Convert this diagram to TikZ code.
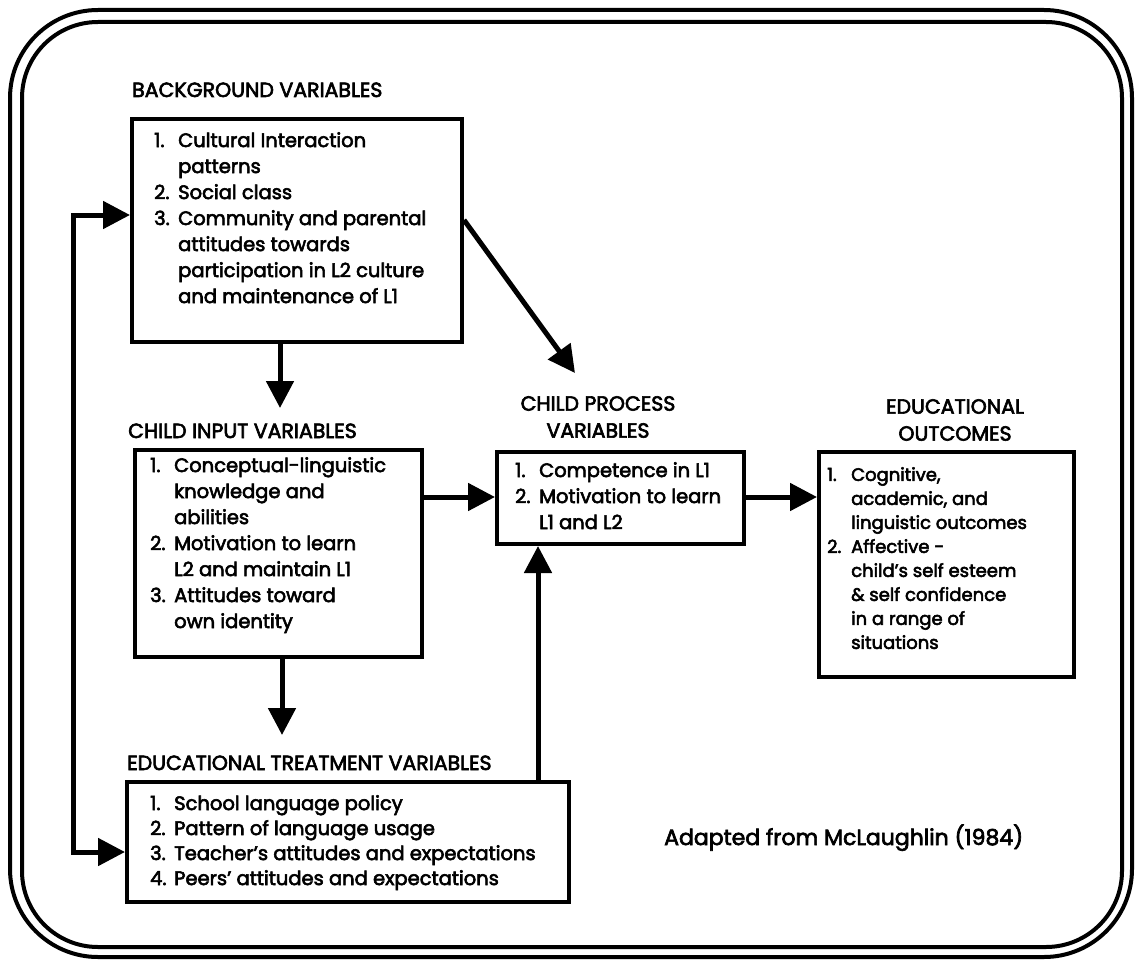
\documentclass[tikz,border=0pt]{standalone}
\usepackage{fontspec}
\setmainfont{Poppins}[FakeBold=3]
\usetikzlibrary{arrows.meta}

\tikzset{
  frameline/.style={line width=4pt, rounded corners=#1},
  varbox/.style={draw, line width=4pt, inner sep=0pt, anchor=north west},
  boxtext/.style={inner sep=0pt, anchor=north west, align=left, font=\fontsize{19.5}{26}\selectfont},
  heading/.style={inner sep=0pt, font=\fontsize{20.5}{27}\selectfont},
  bigtip/.tip={Triangle[length=27pt,width=27pt]},
  flow/.style={line width=5pt, -bigtip},
}
% list numbers in a fixed-width slot, continuation lines indented to match
\newlength{\numw}
\setlength{\numw}{24pt}
\newcommand{\itm}[1]{\makebox[\numw][l]{#1.}}
\newcommand{\ind}{\hspace*{\numw}}

\begin{document}
\begin{tikzpicture}[x=1pt,y=-1pt]
\useasboundingbox (0,0) rectangle (1137,960);

% double rounded frame
\draw[frameline=88pt] (10,10) rectangle (1132,957);
\draw[frameline=76pt] (22,22) rectangle (1122,947);

% boxes
\node[varbox, minimum width=330pt, minimum height=223pt] (bg) at (130,117) {};
\node[varbox, minimum width=287pt, minimum height=207pt] (inp) at (133,448) {};
\node[varbox, minimum width=247pt, minimum height=92pt] (proc) at (495,450) {};
\node[varbox, minimum width=255pt, minimum height=225pt] (outc) at (817,450) {};
\node[varbox, minimum width=442pt, minimum height=120pt] (treat) at (125,780) {};

% headings
\node[heading, anchor=base west] (bgtitle) at (132,97) {BACKGROUND VARIABLES};
\node[heading, anchor=base west] (inptitle) at (128,438) {CHILD INPUT VARIABLES};
\node[heading, align=center] (proctitle) at (598,417) {CHILD PROCESS\\VARIABLES};
\node[heading, align=center] (outctitle) at (955,420) {EDUCATIONAL\\OUTCOMES};
\node[heading, anchor=base west] (treattitle) at (127,770) {EDUCATIONAL TREATMENT VARIABLES};

% box contents
\node[boxtext] (bgtext) at (154,132) {\itm{1}Cultural Interaction\\\ind patterns\\\itm{2}Social class\\\itm{3}Community and parental\\\ind attitudes towards\\\ind participation in L2 culture\\\ind and maintenance of L1};
\node[boxtext] (inptext) at (150,457) {\itm{1}Conceptual-linguistic\\\ind knowledge and\\\ind abilities\\\itm{2}Motivation to learn\\\ind L2 and maintain L1\\\itm{3}Attitudes toward\\\ind own identity};
\node[boxtext] (proctext) at (515,462) {\itm{1}Competence in L1\\\itm{2}Motivation to learn\\\ind L1 and L2};
\node[boxtext, font=\fontsize{18}{24}\selectfont] (outctext) at (827,467) {\itm{1}Cognitive,\\\ind academic, and\\\ind linguistic outcomes\\\itm{2}Affective -\\\ind child's self esteem\\\ind \& self confidence\\\ind in a range of\\\ind situations};
\node[boxtext, font=\fontsize{19.5}{25}\selectfont] (treattext) at (150,795) {\itm{1}School language policy\\\itm{2}Pattern of language usage\\\itm{3}Teacher's attitudes and expectations\\\itm{4}Peers' attitudes and expectations};

\node[inner sep=0pt, anchor=base west, font=\fontsize{22}{27}\selectfont] (credit) at (664,845) {Adapted from McLaughlin (1984)};

% connectors
\coordinate (t1) at (280,408);
\draw[flow] (bg.south -| t1) -- (t1);
\coordinate (t2) at (282,735);
\draw[flow] (inp.south -| t2) -- (t2);
\coordinate (mid) at (0,497);
\draw[flow] (inp.east |- mid) -- (proc.west |- mid);
\draw[flow] (proc.east |- mid) -- (outc.west |- mid);
\coordinate (d0) at (0,220);
\coordinate (t3) at (575,373);
\draw[flow] (bg.east |- d0) -- (t3);
\coordinate (up) at (538,0);
\draw[flow] (treat.north -| up) -- (proc.south -| up);
\coordinate (lp) at (73,215);
\coordinate (lq) at (73,852);
\draw[line width=5pt, bigtip-bigtip] (bg.west |- lp) -- (lp) -- (lq) -- (treat.west |- lq);
\end{tikzpicture}
\end{document}
